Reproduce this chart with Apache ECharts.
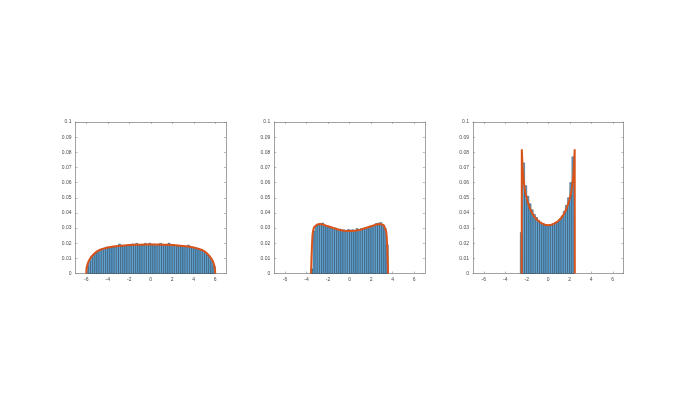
<!DOCTYPE html>
<html><head><meta charset="utf-8">
<script src="https://cdn.jsdelivr.net/npm/echarts@6/dist/echarts.min.js"></script>
<style>html,body{margin:0;padding:0;background:#fff}#c{width:675px;height:402px}</style>
</head><body><div id="c"></div>
<script>
const binWidth = 0.2;
const xTicks = [-6, -4, -2, 0, 2, 4, 6];

// Panel 1 histogram
const centers1 = [-5.9,-5.7,-5.5,-5.3,-5.1,-4.9,-4.7,-4.5,-4.3,-4.1,-3.9,-3.7,-3.5,-3.3,-3.1,-2.9,-2.7,-2.5,-2.3,-2.1,-1.9,-1.7,-1.5,-1.3,-1.1,-0.9,-0.7,-0.5,-0.3,-0.1,
  0.1,0.3,0.5,0.7,0.9,1.1,1.3,1.5,1.7,1.9,2.1,2.3,2.5,2.7,2.9,3.1,3.3,3.5,3.7,3.9,4.1,4.3,4.5,4.7,4.9,5.1,5.3,5.5,5.7,5.9];
const values1 = [0.005,0.008,0.0112,0.0125,0.0135,0.0146,0.0158,0.0163,0.0168,0.0174,0.0170,0.0177,0.0175,0.0179,0.0182,0.0194,0.0181,0.0185,0.0183,0.0188,0.0184,0.0195,0.0190,0.0199,0.0187,0.0192,0.0189,0.0199,0.0183,0.0200,
  0.0186,0.0193,0.0183,0.0190,0.0199,0.0193,0.0185,0.0189,0.0200,0.0188,0.0191,0.0184,0.0187,0.0182,0.0185,0.0179,0.0177,0.0187,0.0170,0.0174,0.0167,0.0168,0.0160,0.0156,0.0145,0.0137,0.0122,0.0108,0.0084,0.0048];
const curveX1 = [-6,-5.98,-5.95,-5.9,-5.8,-5.7,-5.5,-5.3,-5,-4.7,-4.4,-4,-3.5,-3,-2.5,-2,-1.5,-1,-0.5,0,0.5,1,1.5,2,2.5,3,3.5,4,4.4,4.7,5,5.3,5.5,5.7,5.8,5.9,5.95,5.98,6];
const curveY1 = [0,0.0022,0.0038,0.0055,0.0077,0.0092,0.0112,0.0128,0.0146,0.0157,0.0164,0.0172,0.0178,0.0182,0.0185,0.0188,0.0189,0.0190,0.0191,0.0191,0.0191,0.0190,0.0189,0.0188,0.0185,0.0182,0.0178,0.0172,0.0164,0.0157,0.0146,0.0128,0.0112,0.0092,0.0077,0.0055,0.0038,0.0022,0];

// Panel 2 histogram
const centers2 = [-3.5,-3.3,-3.1,-2.9,-2.7,-2.5,-2.3,-2.1,-1.9,-1.7,-1.5,-1.3,-1.1,-0.9,-0.7,-0.5,-0.3,-0.1,
  0.1,0.3,0.5,0.7,0.9,1.1,1.3,1.5,1.7,1.9,2.1,2.3,2.5,2.7,2.9,3.1,3.3,3.5];
const values2 = [0.003,0.028,0.0318,0.0322,0.0328,0.0333,0.0318,0.0312,0.0308,0.0303,0.0298,0.0300,0.0291,0.0293,0.0286,0.0288,0.0282,0.0290,
  0.0286,0.0289,0.0284,0.0296,0.0290,0.0296,0.0298,0.0301,0.0303,0.0311,0.0316,0.0320,0.0330,0.0332,0.0336,0.0322,0.0300,0.019];
const curveX2 = [-3.58,-3.55,-3.5,-3.45,-3.4,-3.3,-3.2,-3,-2.8,-2.6,-2.4,-2,-1.5,-1,-0.5,0,0.5,1,1.5,2,2.4,2.6,2.8,3,3.2,3.3,3.4,3.45,3.5,3.55,3.58];
const curveY2 = [0,0.008,0.018,0.025,0.028,0.0305,0.0316,0.0324,0.0326,0.0325,0.0321,0.0312,0.0300,0.0289,0.0282,0.0280,0.0282,0.0289,0.0300,0.0312,0.0321,0.0325,0.0326,0.0324,0.0316,0.0305,0.028,0.025,0.018,0.008,0];

// Panel 3 histogram
const centers3 = [-2.5,-2.3,-2.1,-1.9,-1.7,-1.5,-1.3,-1.1,-0.9,-0.7,-0.5,-0.3,-0.1,0.1,0.3,0.5,0.7,0.9,1.1,1.3,1.5,1.7,1.9,2.1,2.3];
const values3 = [0.027,0.073,0.058,0.051,0.046,0.042,0.039,0.037,0.035,0.0338,0.0328,0.0322,0.032,0.0315,0.032,0.0328,0.0338,0.0342,0.036,0.038,0.041,0.045,0.050,0.060,0.077];
const curveX3 = [-2.47,-2.46,-2.43,-2.4,-2.35,-2.3,-2.2,-2.1,-2,-1.8,-1.6,-1.4,-1.2,-1,-0.8,-0.6,-0.3,0,0.3,0.6,0.8,1,1.2,1.4,1.6,1.8,2,2.1,2.2,2.3,2.35,2.4,2.43,2.46,2.47];
const curveY3 = [0,0.082,0.077,0.072,0.066,0.062,0.0565,0.0525,0.0495,0.0448,0.0412,0.0386,0.0366,0.0351,0.034,0.0331,0.0322,0.0318,0.0322,0.0331,0.034,0.0351,0.0366,0.0386,0.0412,0.0448,0.0495,0.0525,0.0565,0.062,0.066,0.072,0.077,0.082,0];

const panels = [
  {c: centers1, v: values1, cx: curveX1, cy: curveY1},
  {c: centers2, v: values2, cx: curveX2, cy: curveY2},
  {c: centers3, v: values3, cx: curveX3, cy: curveY3}
];
const gridLefts = [75.5, 274.3, 473];
const axisColor = '#8a8a8a';
const labelColor = '#4a4a4a';

const grid = [], xAxis = [], yAxis = [], series = [];
panels.forEach((p, i) => {
  grid.push({left: gridLefts[i], top: 122, width: 150.5, height: 151.5, show: false});
  const xBase = {gridIndex: i, type: 'value', min: -7, max: 7,
    axisLine: {show: true, onZero: false, lineStyle: {color: axisColor, width: 0.8}},
    splitLine: {show: false}};
  xAxis.push(Object.assign({}, xBase, {position: 'bottom',
    axisTick: {show: true, inside: true, length: 2, customValues: xTicks, lineStyle: {color: axisColor, width: 0.6}},
    axisLabel: {show: true, customValues: xTicks, color: labelColor, fontSize: 5, margin: 4, fontFamily: 'Liberation Sans'}}));
  xAxis.push(Object.assign({}, xBase, {position: 'top',
    axisTick: {show: true, inside: true, length: 2, customValues: xTicks, lineStyle: {color: axisColor, width: 0.6}},
    axisLabel: {show: false}}));
  const yBase = {gridIndex: i, type: 'value', min: 0, max: 0.1, interval: 0.01,
    axisLine: {show: true, onZero: false, lineStyle: {color: axisColor, width: 0.8}},
    splitLine: {show: false}};
  yAxis.push(Object.assign({}, yBase, {position: 'left',
    axisTick: {show: true, inside: true, length: 2, lineStyle: {color: axisColor, width: 0.6}},
    axisLabel: {show: true, color: labelColor, fontSize: 5, margin: 4, fontFamily: 'Liberation Sans',
      formatter: v => String(+v.toFixed(2))}}));
  yAxis.push(Object.assign({}, yBase, {position: 'right',
    axisTick: {show: true, inside: true, length: 2, lineStyle: {color: axisColor, width: 0.6}},
    axisLabel: {show: false}}));

  series.push({
    type: 'custom', xAxisIndex: 2 * i, yAxisIndex: 2 * i, z: 2,
    encode: {x: [0, 1], y: 2},
    data: p.c.map((c, k) => [c - binWidth / 2, c + binWidth / 2, p.v[k]]),
    renderItem: (params, api) => {
      const a = api.coord([api.value(0), api.value(2)]);
      const b = api.coord([api.value(1), 0]);
      return {type: 'rect', shape: {x: a[0], y: a[1], width: b[0] - a[0], height: b[1] - a[1]},
        style: {fill: '#5ea5d6', stroke: 'rgba(30,40,50,0.85)', lineWidth: 0.5}};
    }
  });
  series.push({
    type: 'line', xAxisIndex: 2 * i, yAxisIndex: 2 * i, z: 3,
    data: p.cx.map((x, k) => [x, p.cy[k]]),
    showSymbol: false, symbol: 'none', smooth: false,
    lineStyle: {color: '#D95319', width: 2}
  });
});

const chart = echarts.init(document.getElementById('c'), null, {renderer: 'canvas'});
chart.setOption({animation: false, backgroundColor: '#ffffff', grid, xAxis, yAxis, series});
</script>
</body></html>
